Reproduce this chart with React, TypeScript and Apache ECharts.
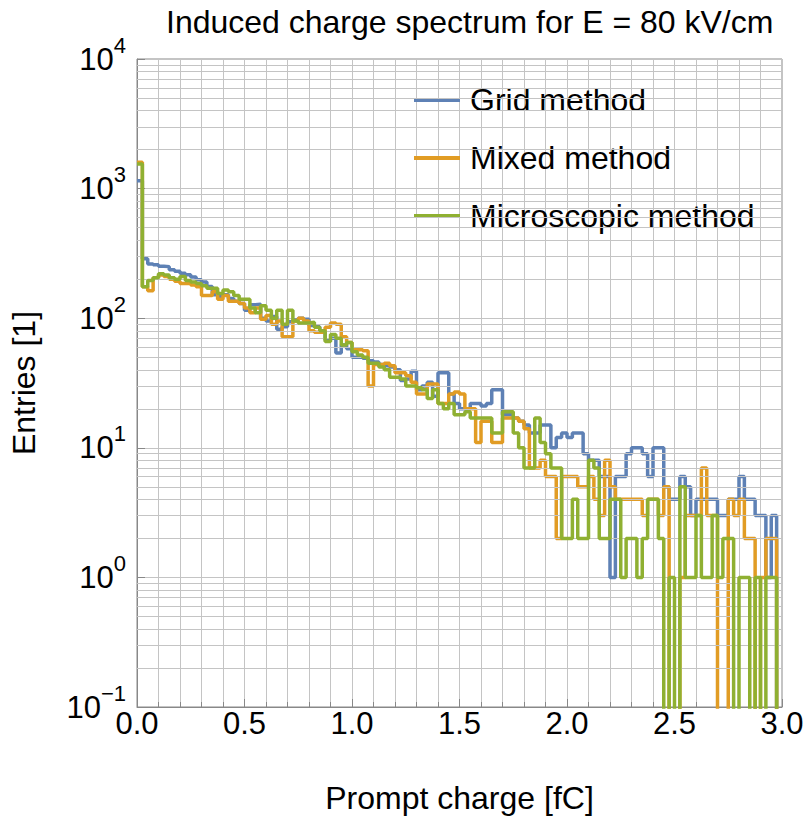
import React, { useEffect, useRef } from "react";
import * as echarts from "echarts";

const BIN_WIDTH = 0.025;

const gridCounts = [
  1150, 288, 262, 258, 252, 250, 236, 230, 222, 216, 208, 198, 190, 176, 152, 147, 152, 142, 135, 130, 115, 127, 128, 100, 95, 103, 82, 86, 94, 97, 100,
  98, 88, 86, 78, 68, 70, 54, 62, 58, 50, 50, 49, 47, 46, 44, 43, 42, 40, 33, 34, 39, 28, 30, 32, 25, 38, 38, 26, 22, 20,
  20, 22, 22, 21, 22, 28, 28, 18, 18, 17, 16, 15, 13, 13, 15, 15, 10, 12, 13, 12, 13, 13, 9, 8, 8, 6, 6, 1, 6, 6, 9,
  10, 10, 9, 6, 10, 10, 5, 4, 4, 6, 5, 3, 4, 4, 4, 4, 3, 3, 4, 4, 6, 4, 4, 3, 3, 1, 3, 0,
];

const mixedCounts = [
  1600, 175, 163, 205, 215, 210, 200, 193, 185, 185, 180, 175, 150, 150, 160, 140, 150, 135, 135, 130, 120, 110, 120, 98, 105, 90, 95, 72, 72, 95, 100,
  95, 80, 78, 78, 85, 92, 90, 72, 65, 58, 57, 56, 30, 44, 44, 45, 43, 38, 38, 36, 32, 26, 26, 31, 31, 22, 22, 26, 27, 26,
  20, 20, 11, 16, 16, 11, 11, 17, 17, 17, 16, 14, 7, 7, 8, 6, 6, 2, 6, 6, 6, 5, 5, 6, 4, 3, 8, 5, 4, 4, 4,
  4, 4, 3, 4, 4, 3, 5, 0, 0, 1, 3, 3, 3, 7, 3, 3, 0, 0, 4, 3, 4, 2, 2, 0, 1, 2, 2, 0,
];

const microCounts = [
  1550, 175, 195, 205, 220, 215, 205, 200, 210, 195, 190, 185, 178, 170, 170, 155, 165, 160, 150, 140, 140, 120, 110, 125, 115, 100, 115, 90, 115, 95, 92,
  92, 93, 85, 80, 66, 75, 70, 62, 65, 55, 52, 50, 45, 45, 42, 40, 35, 35, 34, 30, 30, 29, 28, 24, 28, 22, 20, 22, 18, 18,
  19, 17, 17, 17, 17, 13, 13, 19, 19, 13, 10, 7, 7, 17, 11, 9, 7, 7, 2, 2, 4, 2, 2, 8, 7, 2, 2, 4, 4, 1, 2,
  2, 1, 2, 4, 4, 2, 0, 1, 0, 5, 1, 1, 3, 1, 1, 3, 1, 2, 2, 0, 1, 1, 0, 1, 0, 1, 1, 0,
];

const seriesNames = ["Grid method", "Mixed method", "Microscopic method"];
const seriesColors = ["#5E81B5", "#E19C24", "#8FB032"];
const minorGridValues = [
  0.2, 0.3, 0.4, 0.5, 0.6, 0.7, 0.8, 0.9,
  2, 3, 4, 5, 6, 7, 8, 9,
  20, 30, 40, 50, 60, 70, 80, 90,
  200, 300, 400, 500, 600, 700, 800, 900,
  2000, 3000, 4000, 5000, 6000, 7000, 8000, 9000,
];

const FONT = "'Liberation Sans', Arial, Helvetica, sans-serif";
const ZERO_STAND_IN = 1e-3;

function toSteps(counts: number[]) {
  const pts = counts.map((c, i) => [i * BIN_WIDTH, c > 0 ? c : ZERO_STAND_IN]);
  const last = counts[counts.length - 1];
  pts.push([counts.length * BIN_WIDTH, last > 0 ? last : ZERO_STAND_IN]);
  return pts;
}

export default function App() {
  const ref = useRef<HTMLDivElement>(null);
  useEffect(() => {
    if (!ref.current) return;
    const chart = echarts.init(ref.current, null, { renderer: "svg" });
    const allCounts = [gridCounts, mixedCounts, microCounts];
    const gridColor = "#c4c4c4";
    chart.setOption({
      animation: false,
      title: {
        text: "Induced charge spectrum for E = 80 kV/cm",
        left: 161,
        top: 1,
        textStyle: { fontFamily: FONT, fontSize: 32, fontWeight: "normal", color: "#000" },
      },
      legend: {
        data: seriesNames,
        orient: "vertical",
        left: 409,
        top: 75,
        icon: "rect",
        itemWidth: 46,
        itemHeight: 4,
        itemGap: 18,
        textStyle: { fontFamily: FONT, fontSize: 32, color: "#000", lineHeight: 40, padding: [0, 0, 0, 5] },
      },
      grid: {
        left: 136,
        right: 25,
        top: 59,
        bottom: 112,
        show: true,
        borderColor: "#888",
        borderWidth: 1,
      },
      xAxis: {
        type: "value",
        min: 0,
        max: 3,
        interval: 0.5,
        name: "Prompt charge [fC]",
        nameLocation: "middle",
        nameGap: 75,
        nameTextStyle: { fontFamily: FONT, fontSize: 32, color: "#000" },
        axisLine: { lineStyle: { color: "#888" } },
        axisTick: { inside: true, length: 8, lineStyle: { color: "#888" } },
        minorTick: { show: true, splitNumber: 5, length: 5, lineStyle: { color: "#888" } },
        splitLine: { show: true, lineStyle: { color: gridColor } },
        minorSplitLine: { show: true, lineStyle: { color: gridColor } },
        axisLabel: {
          fontFamily: FONT,
          fontSize: 31,
          color: "#000",
          margin: 1,
          formatter: (v: number) => v.toFixed(1),
        },
      },
      yAxis: {
        type: "log",
        logBase: 10,
        min: 0.1,
        max: 10000,
        name: "Entries [1]",
        nameLocation: "middle",
        nameGap: 97,
        nameTextStyle: { fontFamily: FONT, fontSize: 32, color: "#000" },
        axisLine: { show: true, lineStyle: { color: "#888" } },
        axisTick: { show: true, inside: true, length: 8, lineStyle: { color: "#888" } },
        splitLine: { show: true, lineStyle: { color: gridColor } },
        axisLabel: {
          margin: 11,
          formatter: (v: number) => {
            const e = Math.round(Math.log10(v));
            return "{b|10}{s|" + (e < 0 ? "\u2212" + -e : String(e)) + "}";
          },
          rich: {
            b: { fontFamily: FONT, fontSize: 31, color: "#000", lineHeight: 50 },
            s: { fontFamily: FONT, fontSize: 22, color: "#000", lineHeight: 22, verticalAlign: "top" },
          },
        },
      },
      series: [
        {
          name: "minor-grid",
          type: "line",
          data: [],
          z: 1,
          silent: true,
          markLine: {
            silent: true,
            symbol: "none",
            label: { show: false },
            lineStyle: { color: gridColor, type: "solid", width: 1 },
            data: minorGridValues.map((v) => ({ yAxis: v })),
          },
        },
        ...seriesNames.map((name, i) => ({
          name,
          type: "line",
          step: "end",
          data: toSteps(allCounts[i]),
          showSymbol: false,
          symbol: "none",
          clip: true,
          color: seriesColors[i],
          lineStyle: { color: seriesColors[i], width: 3.5 },
          z: 3 + i,
        })),
      ],
    });
    return () => chart.dispose();
  }, []);
  return (
    <div
      ref={ref}
      style={{ position: "fixed", left: 0, top: 0, width: "807px", height: "819px", background: "#fff" }}
    />
  );
}
